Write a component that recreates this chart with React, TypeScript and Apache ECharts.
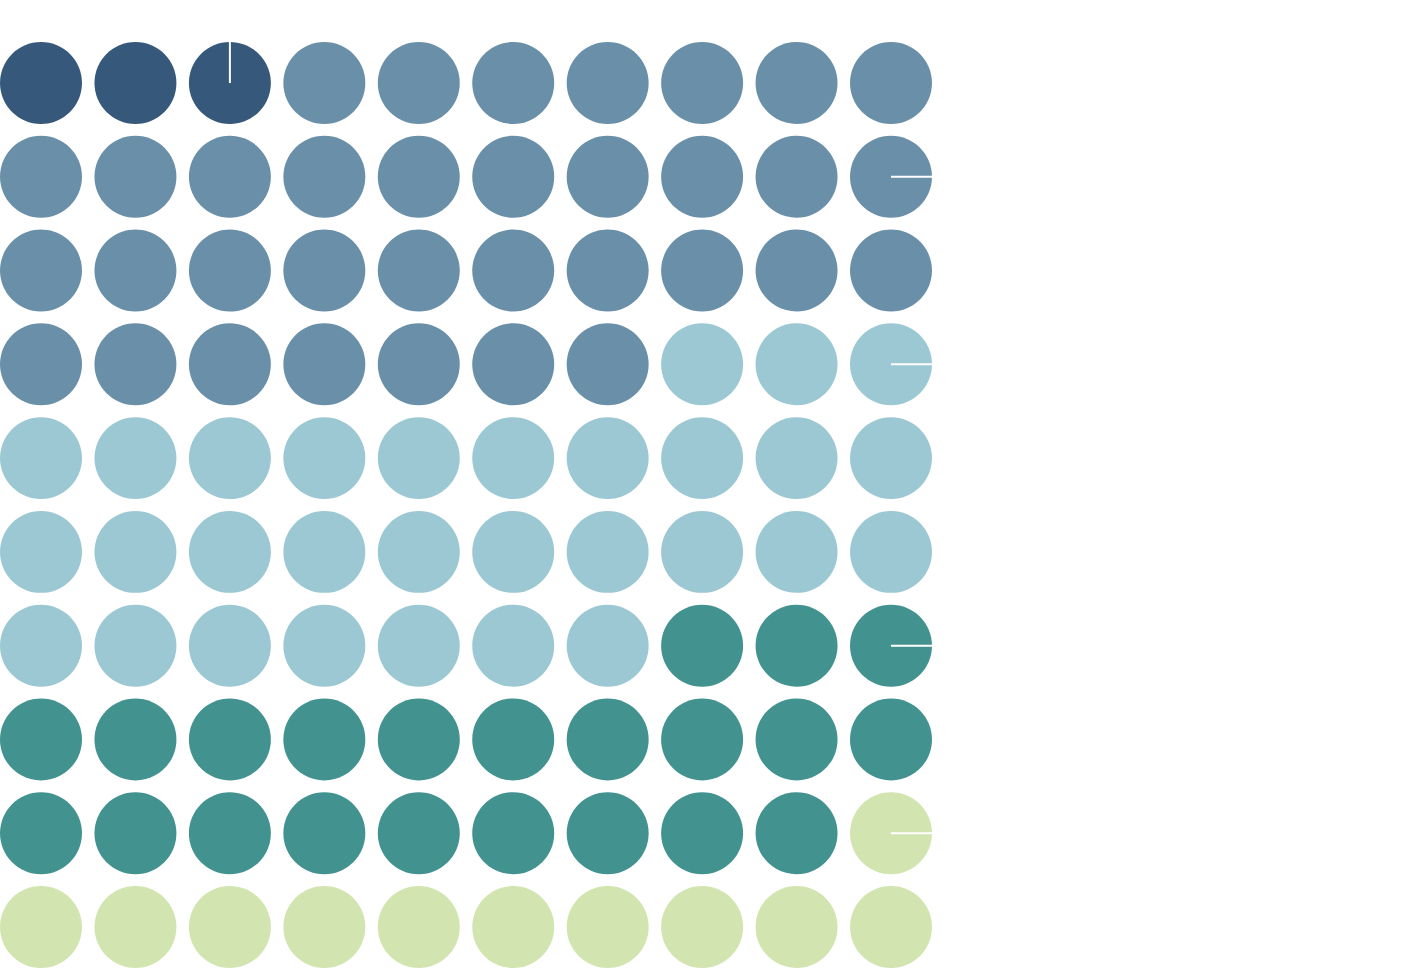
import React, { useEffect, useRef } from "react";
import * as echarts from "echarts";

const categories = ["A", "B", "C", "D", "E"];
const counts = [3, 34, 30, 22, 11];
const colors = ["#36587a", "#6a8fa8", "#9bc8d3", "#42928f", "#d2e5b0"];
const columns = 10;
const rows = 10;
// cells (row-major index) that show a white split line, with the line's angle in degrees (0 = right, 90 = up)
const markedCells = [
  { index: 2, angle: 90 },
  { index: 19, angle: 0 },
  { index: 39, angle: 0 },
  { index: 69, angle: 0 },
  { index: 89, angle: 0 },
];

export default function App() {
  const ref = useRef<HTMLDivElement>(null);
  useEffect(() => {
    if (!ref.current) return;
    document.body.style.margin = "0";
    const chart = echarts.init(ref.current, undefined, { renderer: "svg" });
    const cells: number[][] = [];
    let idx = 0;
    counts.forEach((c, cat) => {
      for (let k = 0; k < c; k++) {
        const mark = markedCells.find((m) => m.index === idx);
        cells.push([idx % columns, Math.floor(idx / columns), cat, mark ? mark.angle : -1]);
        idx++;
      }
    });
    chart.setOption({
      animation: false,
      grid: { left: 41, right: 513, top: 83, bottom: 41 },
      xAxis: { type: "value", min: 0, max: columns - 1, show: false },
      yAxis: { type: "value", min: 0, max: rows - 1, inverse: true, show: false },
      tooltip: { show: false },
      series: [
        {
          type: "custom",
          name: "waffle",
          data: cells,
          encode: { x: 0, y: 1 },
          renderItem: (params: any, api: any) => {
            const c = api.coord([api.value(0), api.value(1)]);
            const size = api.size([1, 1]);
            const r = Math.min(size[0], size[1]) * 0.437;
            const cat = api.value(2);
            const angle = api.value(3);
            const children: any[] = [
              {
                type: "ellipse",
                shape: { cx: c[0], cy: c[1], rx: r, ry: r },
                style: { fill: colors[cat] },
              },
            ];
            if (angle >= 0) {
              const a = (angle * Math.PI) / 180;
              children.push({
                type: "line",
                shape: {
                  x1: c[0],
                  y1: c[1],
                  x2: c[0] + Math.cos(a) * r,
                  y2: c[1] - Math.sin(a) * r,
                },
                style: { stroke: "#ffffff", lineWidth: 2 },
              });
            }
            return { type: "group", children };
          },
        },
      ],
    });
    return () => chart.dispose();
  }, []);
  return (
    <div
      ref={ref}
      style={{ width: 1404, height: 968 }}
      data-categories={categories.join(",")}
    />
  );
}
